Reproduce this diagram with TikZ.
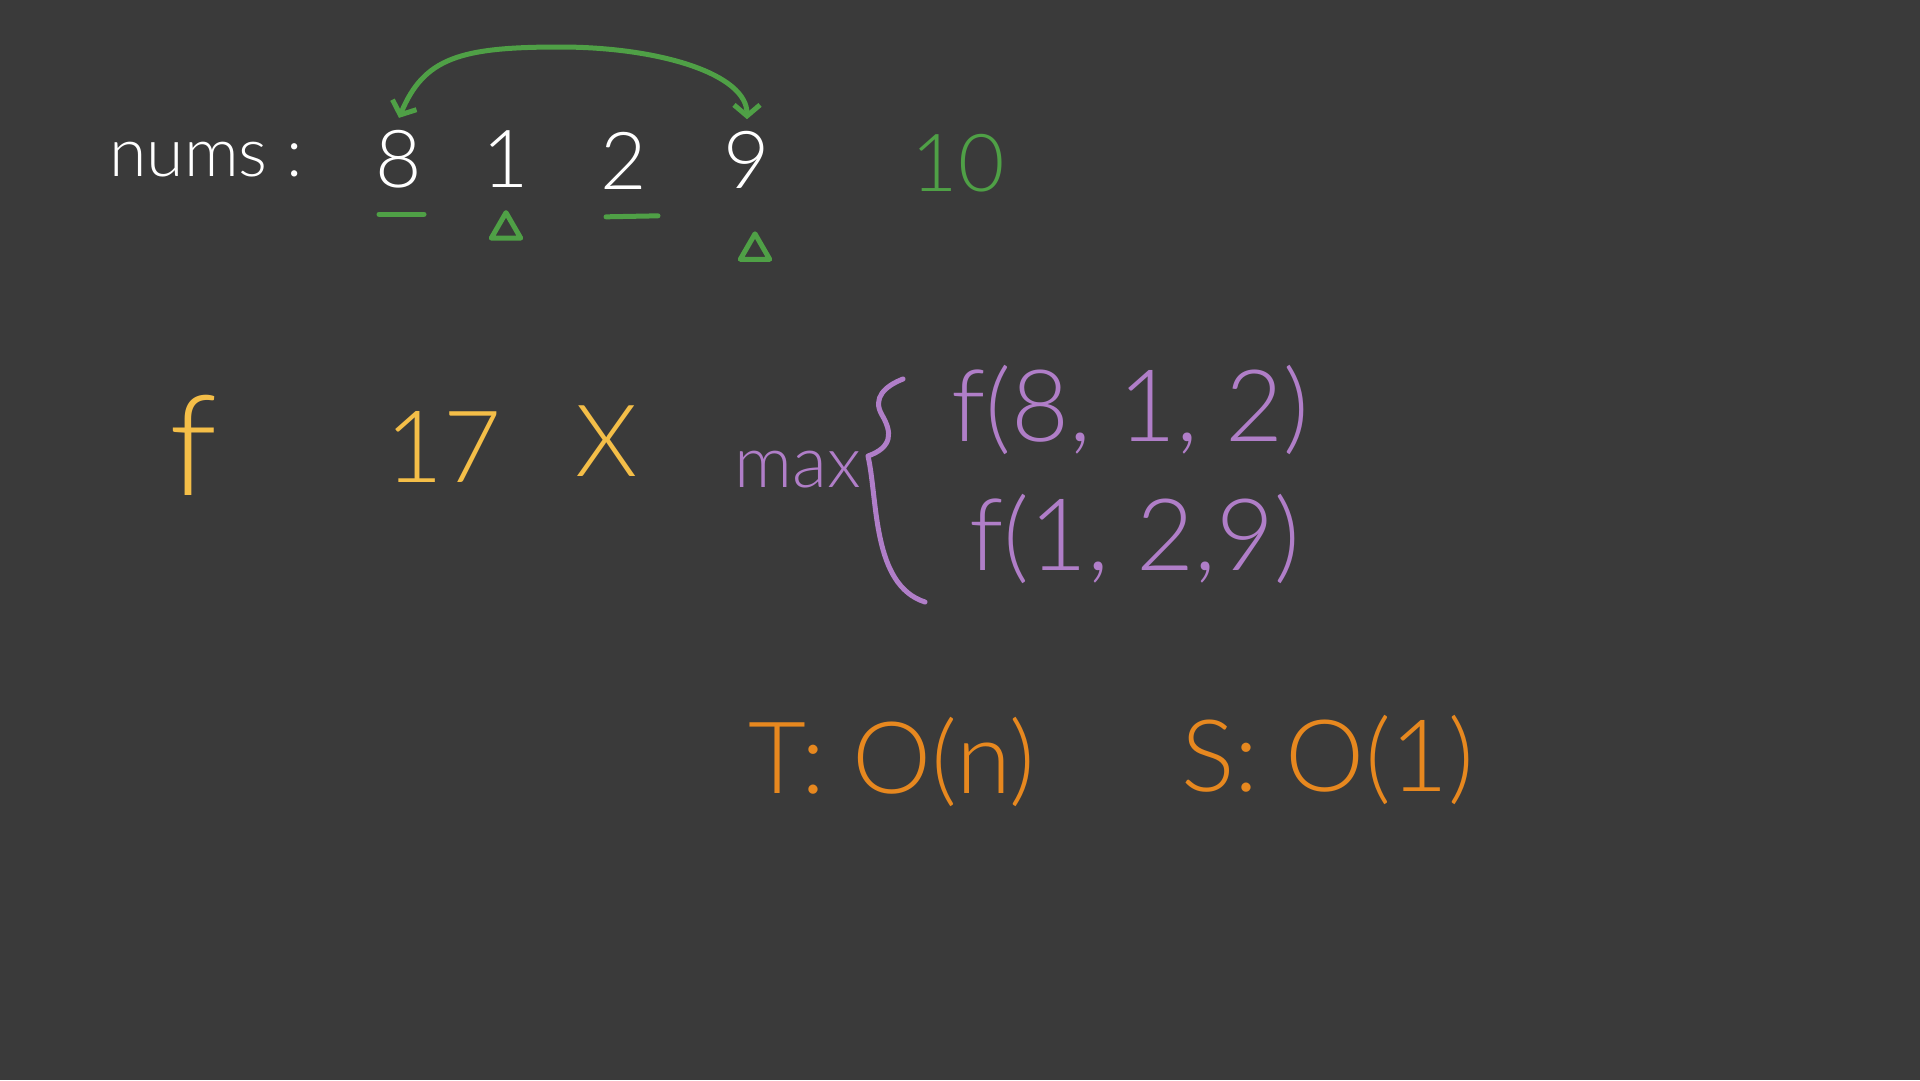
\documentclass[tikz,border=0pt]{standalone}
\usepackage{fontspec}
\setmainfont{Lato Light}
\usetikzlibrary{positioning,arrows.meta,shapes.geometric}
\definecolor{board}{HTML}{3A3A3A}
\definecolor{chalkgreen}{HTML}{4FA046}
\definecolor{chalkyellow}{HTML}{F4BE48}
\definecolor{chalkpurple}{HTML}{B07EC8}
\definecolor{chalkorange}{HTML}{E7881F}
\tikzset{
  chalk/.style={inner sep=0pt,text=white,font=\fontsize{80}{96}\selectfont},
  bigchalk/.style={inner sep=0pt,font=\fontsize{100}{120}\selectfont},
  greenline/.style={draw=chalkgreen,line width=5pt,line cap=round,line join=round},
  swaparc/.style={greenline,<->,>={Straight Barb[length=11pt,width=26pt]}},
  tri/.style={greenline,regular polygon,regular polygon sides=3,minimum size=34pt,inner sep=0pt},
  purpleline/.style={draw=chalkpurple,line width=5pt,line cap=round,line join=round}
}
\begin{document}
\begin{tikzpicture}[x=1pt,y=-1pt]
\fill[board] (0,0) rectangle (1920,1080);
\useasboundingbox (0,0) rectangle (1920,1080);
% the array
\node[chalk,font=\fontsize{68}{80}\selectfont] (nums) at (206,160) {nums :};
\node[chalk] (d8) at (399,159) {8};
\node[chalk] (d1) at (506,159) {1};
\node[chalk] (d2) at (624,161) {2};
\node[chalk] (d9) at (747,160) {9};
\node[chalk,text=chalkgreen] (d10) at (958,163) {10};
% marks under the numbers
\draw[greenline] ([xshift=-20pt,yshift=-26pt]d8.south) -- ([xshift=25pt,yshift=-26pt]d8.south);
\draw[greenline] ([xshift=-18pt,yshift=-27pt]d2.south) -- ([xshift=34pt,yshift=-26pt]d2.south);
\node[tri,below=20pt of d1] (t1) {};
\node[tri,below=40pt of d9,xshift=8pt] (t9) {};
% swap arc
\coordinate (apex) at (560,47);
\draw[swaparc] ([yshift=12pt]d8.north) .. controls +(25,-60) and +(-100,0) .. (apex)
  .. controls +(100,0) and +(0,-45) .. ([yshift=12pt]d9.north);
% yellow row
\node[bigchalk,text=chalkyellow,font=\fontsize{140}{160}\selectfont] (yf) at (193,445) {f};
\node[bigchalk,text=chalkyellow] (y17) at (443,447) {17};
\node[bigchalk,text=chalkyellow] (yx) at (607,441) {X};
% max of the two choices
\node[chalk,text=chalkpurple,font=\fontsize{72}{86}\selectfont] (maxlbl) at (798,470) {max};
\draw[purpleline] (903,379) .. controls (885,386) and (872,398) .. (882,415)
  .. controls (892,432) and (893,447) .. (868,456)
  .. controls (878,500) and (872,585) .. (925,602);
\node[bigchalk,text=chalkpurple] (fa) at (1130,410) {f(8, 1, 2)};
\node[bigchalk,text=chalkpurple] (fb) at (1135,539) {f(1, 2,9)};
% complexity
\node[bigchalk,text=chalkorange] (tc) at (892,762) {T: O(n)};
\node[bigchalk,text=chalkorange] (sc) at (1328,760) {S: O(1)};
\end{tikzpicture}
\end{document}
